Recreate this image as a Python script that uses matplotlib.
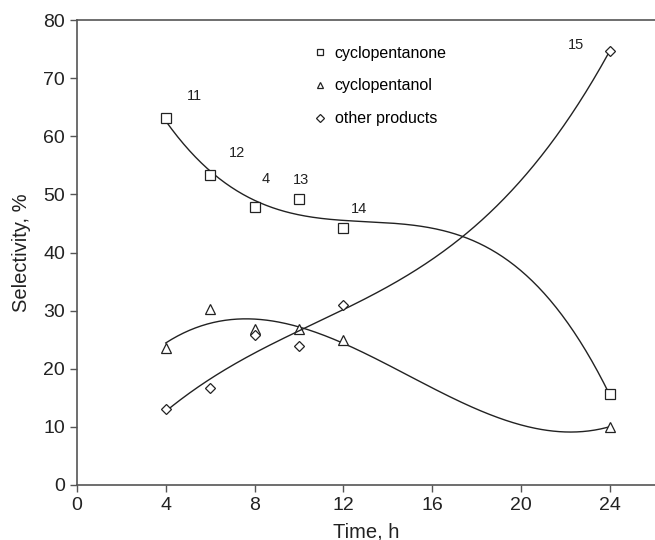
import numpy as np
import matplotlib
matplotlib.use("Agg")
import matplotlib.pyplot as plt

plt.rcParams['font.family'] = ['Liberation Sans', 'DejaVu Sans']

time_h = [4, 6, 8, 10, 12, 24]
cyclopentanone = [63.1, 53.3, 47.8, 49.2, 44.2, 15.6]
cyclopentanol = [23.6, 30.2, 26.8, 26.8, 25.0, 10.0]
other_products = [13.0, 16.6, 25.8, 23.9, 31.0, 74.6]

run_labels = ["11", "12", "4", "13", "14", "15"]
run_label_x = [5.3, 7.2, 8.5, 10.1, 12.7, 22.5]
run_label_y = [67.0, 57.1, 52.7, 52.5, 47.5, 75.7]

fig = plt.figure(figsize=(6.55, 5.40), dpi=100)
ax = fig.add_axes([0.1176, 0.1019, 0.8824, 0.861])

xs = np.linspace(4, 24, 300)
series = [(cyclopentanone, 's', 'cyclopentanone'),
          (cyclopentanol, '^', 'cyclopentanol'),
          (other_products, 'D', 'other products')]
handles = []
for vals, mk, lab in series:
    coef = np.polyfit(time_h, vals, 3)
    ax.plot(xs, np.polyval(coef, xs), color='#222222', lw=1.0)
    ms = 6.5 if mk != 'D' else 5
    h, = ax.plot(time_h, vals, linestyle='none', marker=mk, mfc='white',
                 mec='#222222', mew=0.9, ms=ms, label=lab)
    handles.append(h)

for t, x, y in zip(run_labels, run_label_x, run_label_y):
    ax.text(x, y, t, fontsize=10.5, ha='center', va='center', color='#222222')

leg = ax.legend(handles=handles, loc='upper left', bbox_to_anchor=(0.385, 0.976),
                frameon=False, fontsize=11.5, handlelength=0.7, handletextpad=0.6,
                labelspacing=1.12, markerscale=0.75)

ax.set_xlim(0, 26.05)
ax.set_ylim(0, 80)
ax.set_xticks([0, 4, 8, 12, 16, 20, 24])
ax.set_yticks(range(0, 81, 10))
ax.spines['right'].set_visible(False)
for s in ['left', 'bottom', 'top']:
    ax.spines[s].set_color('#555555')
    ax.spines[s].set_linewidth(1.2)
ax.tick_params(direction='out', length=5, width=1, colors='#555555',
               labelcolor='#222222', labelsize=14)
ax.set_xlabel('Time, h', fontsize=14.5, color='#222222', labelpad=6)
ax.set_ylabel('Selectivity, %', fontsize=14.5, color='#222222', labelpad=9)

fig.savefig('out.png', dpi=100)
